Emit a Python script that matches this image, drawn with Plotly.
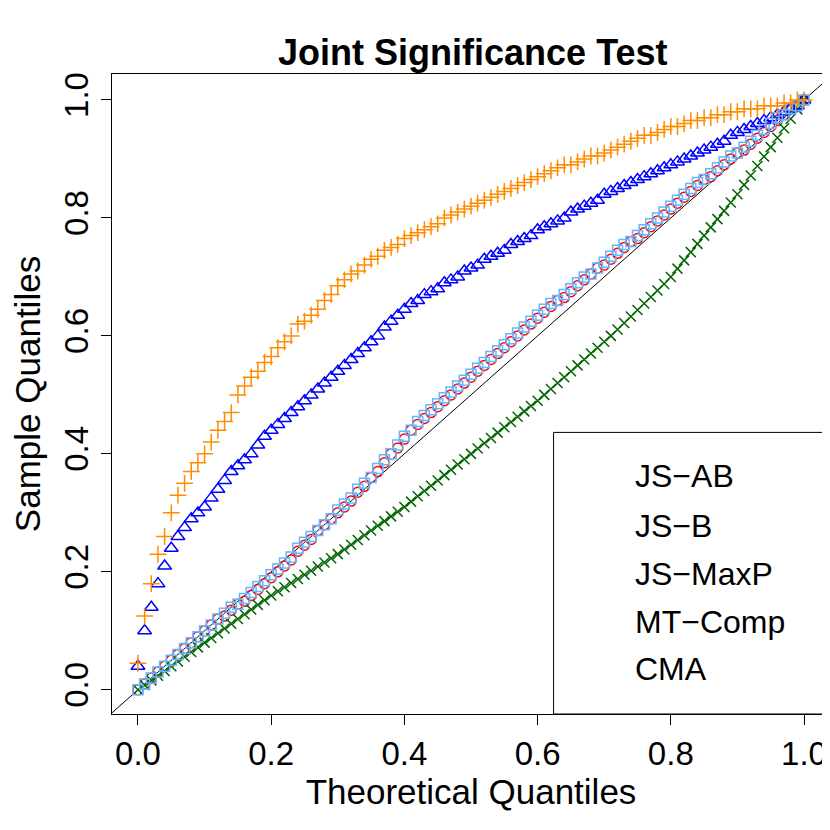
import plotly.graph_objects as go

theoretical = [i / 100 for i in range(101)]

js_ab = [0.00,.01,.02,.03,.04,.05,.06,.07,.08,.09,.10,.11,.12,.125,.135,.145,.15,.16,.17,.18,.19,
 .20,.21,.22,.235,.245,.255,.27,.28,.29,.30,.31,.32,.335,.345,.36,.37,.385,.40,.41,.425,
 .44,.45,.46,.47,.48,.49,.50,.51,.52,.53,.54,.55,.56,.57,.58,.59,.60,.61,.62,.63,
 .64,.65,.66,.665,.675,.685,.695,.705,.715,.72,.73,.74,.75,.76,.765,.775,.785,.795,.805,.815,
 .825,.835,.845,.855,.865,.87,.88,.89,.90,.91,.915,.925,.935,.945,.955,.965,.975,.985,.99,1.0]
mt_comp = [0.00,.01,.02,.03,.04,.05,.06,.07,.08,.09,.10,.11,.12,.13,.14,.145,.155,.165,.175,.185,.195,
 .205,.215,.225,.24,.25,.26,.27,.28,.29,.305,.315,.325,.34,.35,.36,.375,.39,.40,.415,.43,
 .44,.455,.465,.475,.485,.495,.505,.515,.525,.535,.545,.555,.565,.575,.585,.595,.605,.615,.625,.635,
 .645,.655,.66,.67,.68,.69,.70,.705,.715,.725,.735,.745,.755,.76,.77,.78,.79,.80,.81,.82,
 .83,.84,.85,.86,.865,.875,.885,.895,.905,.91,.92,.93,.94,.95,.96,.97,.975,.985,.99,1.0]
js_b = [0.00,.008,.016,.024,.032,.04,.048,.056,.064,.072,.08,.088,.096,.104,.112,.12,.128,.136,.144,.152,.16,
 .167,.174,.181,.188,.195,.202,.209,.216,.223,.23,.238,.246,.254,.262,.27,.278,.286,.294,.302,.31,
 .319,.328,.337,.346,.355,.364,.373,.382,.391,.40,.409,.418,.427,.436,.445,.454,.463,.472,.481,.49,
 .50,.51,.52,.53,.54,.55,.56,.57,.58,.59,.60,.611,.622,.633,.644,.655,.666,.677,.688,.70,
 .714,.728,.742,.756,.77,.784,.798,.812,.826,.84,.856,.872,.888,.904,.92,.936,.952,.968,.984,1.0]
js_maxp = [.04,.10,.14,.18,.21,.24,.26,.275,.29,.30,.31,.325,.34,.355,.37,.38,.39,.40,.415,.43,.44,
 .45,.46,.47,.48,.49,.50,.51,.52,.53,.54,.55,.56,.57,.58,.59,.60,.615,.625,.635,.645,
 .655,.66,.67,.675,.68,.69,.695,.70,.71,.715,.72,.73,.735,.74,.745,.755,.76,.765,.77,.78,
 .785,.79,.795,.80,.81,.815,.82,.825,.83,.84,.845,.85,.855,.86,.865,.87,.875,.88,.885,.89,
 .895,.90,.905,.91,.915,.92,.925,.93,.94,.945,.95,.955,.96,.965,.97,.975,.98,.985,.99,1.0]
cma = [.045,.125,.18,.23,.26,.30,.33,.35,.37,.385,.40,.42,.44,.455,.47,.50,.515,.53,.54,.555,.565,
 .58,.59,.60,.62,.625,.635,.645,.66,.67,.685,.695,.705,.71,.72,.73,.735,.745,.75,.755,.765,
 .77,.775,.78,.785,.79,.80,.805,.81,.815,.82,.825,.83,.835,.84,.845,.85,.855,.86,.865,.87,
 .875,.88,.885,.89,.89,.895,.90,.905,.905,.91,.915,.92,.925,.93,.935,.94,.94,.945,.95,.955,
 .955,.96,.965,.965,.97,.97,.975,.975,.98,.98,.985,.985,.985,.99,.99,.99,.995,.995,1.0,1.0]

series_names = ["JS\u2212AB", "JS\u2212B", "JS\u2212MaxP", "MT\u2212Comp", "CMA"]
series_values = [js_ab, js_b, js_maxp, mt_comp, cma]
symbols = ["circle-open", "x-thin-open", "triangle-up-open", "square-open", "cross-thin-open"]
colors = ["#ff0000", "#006400", "#0000ff", "#63b8ff", "#ff8c00"]
sizes = [10, 10, 12, 10, 12]

XR = [-0.039, 1.039]
YR = [-0.041, 1.044]
font = "Liberation Sans, Arial, sans-serif"

fig = go.Figure()
fig.add_trace(go.Scatter(x=XR, y=XR, mode="lines", line=dict(color="black", width=1),
                         showlegend=False, hoverinfo="skip", cliponaxis=True))
for name, vals, sym, col, sz in zip(series_names, series_values, symbols, colors, sizes):
    fig.add_trace(go.Scatter(x=theoretical, y=vals, mode="markers", name=name, showlegend=False,
                             marker=dict(symbol=sym, size=sz, color=col,
                                         line=dict(color=col, width=1.5))))

# manual legend box (R-style), positioned in paper coordinates
fig.add_shape(type="rect", xref="paper", yref="paper", x0=0.615, x1=1.0, y0=0.0, y1=0.44,
              line=dict(color="black", width=1), fillcolor="white", layer="above")
row_y = [0.363, 0.278, 0.197, 0.115, 0.036]
for i, (name, sym, col, sz) in enumerate(zip(series_names, symbols, colors, sizes)):
    yp = (row_y[i] - YR[0]) / (YR[1] - YR[0])
    fig.add_trace(go.Scatter(x=[0.682], y=[row_y[i]], mode="markers", showlegend=False,
                             hoverinfo="skip",
                             marker=dict(symbol=sym, size=sz + 6, color=col,
                                         line=dict(color=col, width=2))))
    fig.add_annotation(xref="paper", yref="paper", x=0.725, y=yp, text=name, showarrow=False,
                       xanchor="left", yanchor="middle",
                       font=dict(size=32, family=font, color="black"))

axis_common = dict(showgrid=False, zeroline=False, showline=True, linecolor="black", linewidth=1,
                   mirror=True, ticks="outside", ticklen=10, tickcolor="black",
                   tickvals=[0, 0.2, 0.4, 0.6, 0.8, 1.0],
                   ticktext=["0.0", "0.2", "0.4", "0.6", "0.8", "1.0"],
                   tickfont=dict(size=33, color="black", family=font))
fig.update_xaxes(range=XR, title=dict(text="Theoretical Quantiles", font=dict(size=35, family=font, color="black"), standoff=8), **axis_common)
fig.update_yaxes(range=YR, tickangle=-90, title=dict(text="Sample Quantiles", font=dict(size=35, family=font, color="black"), standoff=8), **axis_common)
fig.update_layout(
    width=830, height=830, plot_bgcolor="white", paper_bgcolor="white",
    margin=dict(l=104, r=8, t=66, b=124),
    title=dict(text="<b>Joint Significance Test</b>", x=0.56, xanchor="center", y=0.962,
               font=dict(size=36, family=font, color="black")),
    showlegend=False,
)
fig.write_html("out.html")
